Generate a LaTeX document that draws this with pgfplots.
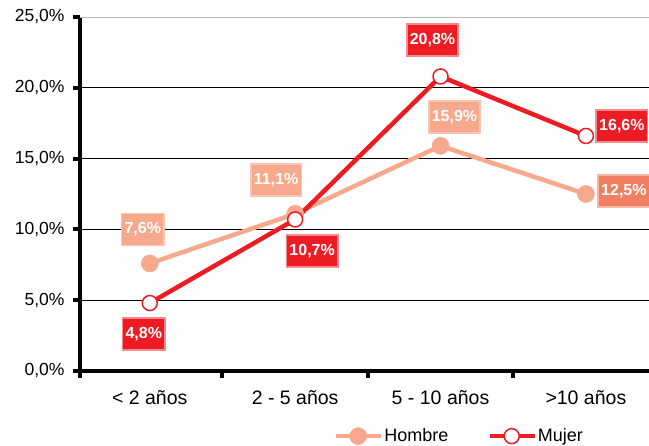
\documentclass[border=0pt]{standalone}
\usepackage{pgfplots}
\pgfplotsset{compat=1.18}
\usepackage{fontspec}
\setmainfont{Liberation Sans}
\definecolor{hom}{HTML}{F6A98C}
\definecolor{homb}{HTML}{F9C6B2}
\definecolor{homd}{HTML}{F07F62}
\definecolor{homdb}{HTML}{F8B7A3}
\definecolor{muj}{HTML}{ED1C24}
\definecolor{mujb}{HTML}{F48A8E}
\begin{document}
\begin{tikzpicture}
\begin{axis}[
  at={(80pt,75pt)}, anchor=south west,
  scale only axis, width=569pt, height=354pt,
  xmin=-0.48, xmax=3.434, ymin=0, ymax=25,
  axis x line=bottom, axis y line=left,
  axis line style={line width=4pt, black, -},
  tick align=outside,
  ytick={0,5,10,15,20},
  extra y ticks={25},
  extra y tick style={grid style={gray!55, line width=0.8pt}},
  ymajorgrids, grid style={black, line width=0.9pt},
  major tick length=7pt,
  every tick/.style={black, line width=4pt},
  /pgf/number format/assume math mode=true,
  yticklabel={\pgfmathprintnumber[fixed,fixed zerofill,precision=1,use comma]{\tick}\%},
  yticklabel style={font=\fontsize{17.5}{19}\selectfont, black, xshift=-5pt},
  xtick={-0.48,0.5,1.5,2.5},
  xticklabels={},
  extra x ticks={0,1,2,3},
  extra x tick labels={{< 2 años},{2 - 5 años},{5 - 10 años},{>10 años}},
  extra x tick style={major tick length=0pt, xticklabel style={font=\fontsize{19.5}{21}\selectfont, black, yshift=-16pt}},
  clip=false,
  legend style={at={(0.666,-0.184)}, anchor=center, draw=none, fill=none,
    legend columns=2, font=\fontsize{18}{20}\selectfont,
    /tikz/every even column/.append style={column sep=38pt},
    nodes={inner xsep=1pt}},
  legend image code/.code={\draw[mark repeat=2,mark phase=2,#1] plot coordinates {(0pt,0pt) (22pt,0pt) (45pt,0pt)};},
]
\addplot[hom, line width=4.5pt, mark=*, mark size=8.5pt, mark options={fill=hom, draw=hom, line width=0.5pt}]
  coordinates {(0,7.6) (1,11.1) (2,15.9) (3,12.5)};
\addlegendentry{Hombre}
\addplot[muj, line width=4.5pt, mark=*, mark size=7.5pt, mark options={fill=white, draw=muj, line width=1.5pt}]
  coordinates {(0,4.8) (1,10.7) (2,20.8) (3,16.6)};
\addlegendentry{Mujer}
\tikzset{lbl/.style={font=\fontsize{16}{18}\selectfont\bfseries, text=white, minimum height=32pt, inner xsep=3pt, line width=1.5pt}}
\node[lbl, fill=hom, draw=homb, xshift=-7pt, yshift=34pt] at (axis cs:0,7.6) {7,6\%};
\node[lbl, fill=hom, draw=homb, xshift=-19pt, yshift=34pt] at (axis cs:1,11.1) {11,1\%};
\node[lbl, fill=hom, draw=homb, xshift=14pt, yshift=29pt] at (axis cs:2,15.9) {15,9\%};
\node[lbl, fill=homd, draw=homdb, xshift=38pt, yshift=3pt] at (axis cs:3,12.5) {12,5\%};
\node[lbl, fill=muj, draw=mujb, xshift=-6pt, yshift=-31pt] at (axis cs:0,4.8) {4,8\%};
\node[lbl, fill=muj, draw=mujb, xshift=17pt, yshift=-31.5pt] at (axis cs:1,10.7) {10,7\%};
\node[lbl, fill=muj, draw=mujb, xshift=-8pt, yshift=36.5pt] at (axis cs:2,20.8) {20,8\%};
\node[lbl, fill=muj, draw=mujb, xshift=36pt, yshift=10pt] at (axis cs:3,16.6) {16,6\%};
\end{axis}
\pgfresetboundingbox
\useasboundingbox (0pt,0pt) rectangle (649pt,446pt);
\end{tikzpicture}
\end{document}
